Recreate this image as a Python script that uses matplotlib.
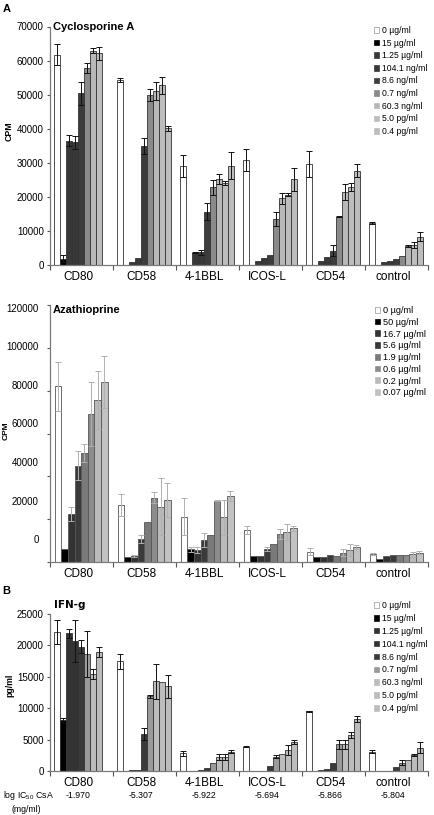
import numpy as np
import matplotlib
matplotlib.use("Agg")
import matplotlib.pyplot as plt
from matplotlib.patches import Patch

plt.rcParams['font.family'] = ['Liberation Sans', 'DejaVu Sans']
plt.rcParams['mathtext.fontset'] = 'custom'
plt.rcParams['mathtext.rm'] = 'Liberation Sans'

nan = np.nan
groups = ['CD80', 'CD58', '4-1BBL', 'ICOS-L', 'CD54', 'control']

# ---------------- Panel A: Cyclosporine A (CPM) ----------------
csa_labels = ['0 µg/ml', '15 µg/ml', '1.25 µg/ml', '104.1 ng/ml', '8.6 ng/ml',
              '0.7 ng/ml', '60.3 ng/ml', '5.0 pg/ml', '0.4 pg/ml']
csa_cd80 = [61700, 1800, 36500, 36000, 50400, 57800, 62900, 62200, nan]
csa_cd58 = [54300, 0, 900, 1950, 35000, 49900, 51100, 52700, 40100]
csa_41bbl = [29100, 0, 3600, 3700, 15700, 22800, 25200, 24200, 29200]
csa_icosl = [30800, 0, 1200, 2150, 2940, 13400, 19600, 20600, 25200]
csa_cd54 = [29700, 0, 1270, 2250, 4200, 14200, 21500, 22800, 27700]
csa_ctrl = [12200, 0, 790, 1270, 1660, 2640, 5600, 5900, 8300]
csa_cd80_err = [3100, 1000, 1700, 1900, 3400, 1400, 700, 1900, nan]
csa_cd58_err = [500, 0, 0, 0, 2300, 1700, 2600, 2600, 800]
csa_41bbl_err = [3200, 0, 200, 800, 2400, 2200, 1400, 600, 3900]
csa_icosl_err = [3200, 0, 0, 0, 0, 2100, 1600, 400, 3400]
csa_cd54_err = [3900, 0, 0, 0, 1600, 200, 2300, 1200, 1900]
csa_ctrl_err = [300, 0, 0, 0, 0, 0, 200, 800, 1400]
csa_colors = ['#ffffff', '#000000', '#383838', '#383838', '#3c3c3c',
              '#8a8a8a', '#b8b8b8', '#bdbdbd', '#bdbdbd']
csa_ticks = [0, 10000, 20000, 30000, 40000, 50000, 60000, 70000]

# ---------------- Panel B: Azathioprine (CPM) ----------------
aza_labels = ['0 µg/ml', '50 µg/ml', '16.7 µg/ml', '5.6 µg/ml', '1.9 µg/ml',
              '0.6 µg/ml', '0.2 µg/ml', '0.07 µg/ml']
aza_cd80 = [82000, 6200, 22400, 44900, 50800, 69200, 75700, 84100]
aza_cd58 = [26600, 2500, 2800, 10700, 18700, 30000, 25900, 29000]
aza_41bbl = [21200, 5900, 5600, 10300, 12600, 28700, 20900, 30800]
aza_icosl = [15000, 2800, 2800, 6200, 8300, 13100, 13900, 15700]
aza_cd54 = [4800, 2200, 2500, 3100, 2800, 4400, 5600, 6900]
aza_ctrl = [3600, 1600, 2800, 3100, 3300, 3400, 3600, 4400]
aza_cd80_err = [11500, 0, 3400, 6800, 4300, 14900, 13700, 12300]
aza_cd58_err = [5300, 0, 300, 1900, 0, 2600, 13400, 7800]
aza_41bbl_err = [8500, 1300, 1300, 3400, 0, 300, 8100, 2200]
aza_icosl_err = [1800, 0, 0, 1000, 0, 2200, 3700, 1300]
aza_cd54_err = [1600, 0, 0, 0, 0, 1500, 2700, 900]
aza_ctrl_err = [400, 0, 0, 0, 0, 0, 1200, 600]
aza_colors = ['#ffffff', '#000000', '#333333', '#3a3a3a', '#7a7a7a',
              '#8c8c8c', '#bababa', '#c2c2c2']
aza_ticks = [0, 20000, 40000, 60000, 80000, 100000, 120000]
aza_ticklabels = ['0', '20000', '40000', '60000', '80000', '100000', '120000']
# label positions as drawn (shifted against the tick marks in the original)
aza_label_pos = [10750, 28700, 46700, 64700, 82700, 100700, 118700]

# ---------------- Panel C: IFN-g (pg/ml) ----------------
ifn_cd80 = [22100, 8100, 21900, 20700, 19800, 18600, 15400, 19000, nan]
ifn_cd58 = [17500, 0, 150, 200, 5900, 11900, 14300, 14100, 13500]
ifn_41bbl = [2800, 0, 50, 100, 450, 1250, 2240, 2240, 3100]
ifn_icosl = [3900, 0, 30, 50, 800, 2300, 2780, 3300, 4650]
ifn_cd54 = [9500, 0, 100, 250, 1230, 4280, 4280, 5720, 8280]
ifn_ctrl = [3100, 0, 30, 50, 640, 1330, 1710, 2560, 3740]
ifn_cd80_err = [1900, 300, 700, 3400, 1000, 3700, 800, 800, nan]
ifn_cd58_err = [1200, 0, 0, 0, 1000, 200, 2800, 0, 1800]
ifn_41bbl_err = [400, 0, 0, 0, 0, 0, 430, 430, 250]
ifn_icosl_err = [100, 0, 0, 0, 0, 200, 0, 800, 300]
ifn_cd54_err = [100, 0, 0, 0, 0, 700, 700, 420, 500]
ifn_ctrl_err = [200, 0, 0, 0, 0, 380, 0, 100, 800]
ifn_colors = ['#ffffff', '#000000', '#333333', '#333333', '#3a3a3a',
              '#9a9a9a', '#bcbcbc', '#bcbcbc', '#bcbcbc']
ifn_ticks = [0, 5000, 10000, 15000, 20000, 25000]
log_ic50 = ['-1.970', '-5.307', '-5.922', '-5.694', '-5.866', '-5.804']

W, H = 435, 815
fig = plt.figure(figsize=(W / 100, H / 100), dpi=100)


def px_axes(x0, y_top, x1, y_bot):
    return fig.add_axes([x0 / W, 1 - y_bot / H, (x1 - x0) / W, (y_bot - y_top) / H])


def draw_panel(ax, vals, errs, colors, labels, width, offset, edge, ecolor, ymax):
    vals = np.array(vals, dtype=float)
    errs = np.array(errs, dtype=float)
    errs[errs == 0] = np.nan
    n = vals.shape[1]
    base = np.arange(len(groups)) - 0.5 + offset
    for j in range(n):
        x = base + (j + 0.5) * width
        ax.bar(x, vals[:, j], width, color=colors[j], edgecolor=edge, linewidth=0.6,
               yerr=errs[:, j], zorder=2,
               error_kw=dict(ecolor=ecolor, elinewidth=0.7, capsize=2.0, capthick=0.7, zorder=3))
    ax.set_xlim(-0.5, len(groups) - 0.5)
    ax.set_ylim(0, ymax)
    for s in ['top', 'right']:
        ax.spines[s].set_visible(False)
    for s in ['left', 'bottom']:
        ax.spines[s].set_color('#7a7a7a')
        ax.spines[s].set_linewidth(0.9)
    ax.set_xticks(np.arange(len(groups) + 1) - 0.5)
    ax.set_xticklabels([])
    ax.set_xticks(np.arange(len(groups)) - 0.05, groups, minor=True)
    ax.tick_params(axis='x', which='major', length=3.5, width=0.8, color='#555555', direction='out')
    ax.tick_params(axis='x', which='minor', length=0, labelsize=8.5, pad=4)
    ax.tick_params(axis='y', which='major', length=2.5, width=0.8, color='#555555',
                   labelsize=7, pad=2)
    handles = [Patch(facecolor=c, edgecolor=('#999999' if c == '#ffffff' else c), linewidth=0.5)
               for c in colors]
    return handles


# Panel A
axA = px_axes(50, 26.5, 428, 265)
hA = draw_panel(axA, [csa_cd80, csa_cd58, csa_41bbl, csa_icosl, csa_cd54, csa_ctrl],
                [csa_cd80_err, csa_cd58_err, csa_41bbl_err, csa_icosl_err, csa_cd54_err, csa_ctrl_err],
                csa_colors, csa_labels, 0.0948, 0.068, '#333333', '#111111', 70000)
axA.set_yticks(csa_ticks)
axA.set_yticklabels([str(t) for t in csa_ticks])
axA.text(0.008, 1.0, 'Cyclosporine A', transform=axA.transAxes, fontsize=8,
         fontweight='bold', va='center', ha='left')
fig.legend(handles=hA, labels=csa_labels, loc='upper left',
           bbox_to_anchor=(374 / W, 1 - 26 / H), frameon=False, fontsize=6.2,
           handlelength=0.6, handleheight=0.6, handletextpad=0.35, labelspacing=0.42,
           borderpad=0, borderaxespad=0)

# Panel B
axB = px_axes(50, 305, 428, 562)
hB = draw_panel(axB, [aza_cd80, aza_cd58, aza_41bbl, aza_icosl, aza_cd54, aza_ctrl],
                [aza_cd80_err, aza_cd58_err, aza_41bbl_err, aza_icosl_err, aza_cd54_err, aza_ctrl_err],
                aza_colors, aza_labels, 0.105, 0.075, '#555555', '#b0b0b0', 120000)
axB.set_yticks(aza_ticks)
axB.set_yticklabels([])
axB.set_yticks(aza_label_pos, aza_ticklabels, minor=True)
axB.tick_params(axis='y', which='minor', length=0, labelsize=7, pad=8)
axB.text(0.008, 0.98, 'Azathioprine', transform=axB.transAxes, fontsize=8,
         fontweight='bold', va='center', ha='left')
fig.legend(handles=hB, labels=aza_labels, loc='upper left',
           bbox_to_anchor=(375 / W, 1 - 306 / H), frameon=False, fontsize=6.6,
           handlelength=0.55, handleheight=0.55, handletextpad=0.3, labelspacing=0.3,
           borderpad=0, borderaxespad=0)

# Panel C
axC = px_axes(50, 614, 428, 771)
hC = draw_panel(axC, [ifn_cd80, ifn_cd58, ifn_41bbl, ifn_icosl, ifn_cd54, ifn_ctrl],
                [ifn_cd80_err, ifn_cd58_err, ifn_41bbl_err, ifn_icosl_err, ifn_cd54_err, ifn_ctrl_err],
                ifn_colors, csa_labels, 0.0948, 0.068, '#333333', '#111111', 25000)
axC.set_yticks(ifn_ticks)
axC.set_yticklabels([str(t) for t in ifn_ticks])
axC.text(0.01, 1.06, 'IFN-g', transform=axC.transAxes, fontsize=7.5,
         fontweight='bold', va='center', ha='left', family='DejaVu Sans')
fig.legend(handles=hC, labels=csa_labels, loc='upper left',
           bbox_to_anchor=(374 / W, 1 - 601 / H), frameon=False, fontsize=6.2,
           handlelength=0.6, handleheight=0.6, handletextpad=0.35, labelspacing=0.45,
           borderpad=0, borderaxespad=0)

# y-axis labels
fig.text(9 / W, 1 - 131 / H, 'CPM', rotation=90, fontsize=6.3, fontweight='bold',
         ha='center', va='center')
fig.text(6.5 / W, 1 - 431 / H, 'CPM', rotation=90, fontsize=6.0, fontweight='bold',
         ha='center', va='center')
fig.text(10 / W, 1 - 685 / H, 'pg/ml', rotation=90, fontsize=6.3, fontweight='bold',
         ha='center', va='center')

# panel letters
fig.text(3 / W, 1 - 8.5 / H, 'A', fontsize=8, fontweight='bold', ha='left', va='center')
fig.text(2 / W, 1 - 591 / H, 'B', fontsize=8, fontweight='bold', ha='left', va='center')

# log IC50 row
fig.text(3 / W, 1 - 796 / H, r'log IC$_{\mathrm{50}}$ CsA', fontsize=6.3, ha='left', va='center')
fig.text(12 / W, 1 - 810 / H, '(mg/ml)', fontsize=6.3, ha='left', va='center')
for i, v in enumerate(log_ic50):
    xd = axC.transData.transform((i - 0.05, 0))[0]
    xf = fig.transFigure.inverted().transform((xd, 0))[0]
    fig.text(xf, 1 - 796 / H, v, fontsize=6.3, ha='center', va='center')

fig.savefig('out.png', dpi=100)
